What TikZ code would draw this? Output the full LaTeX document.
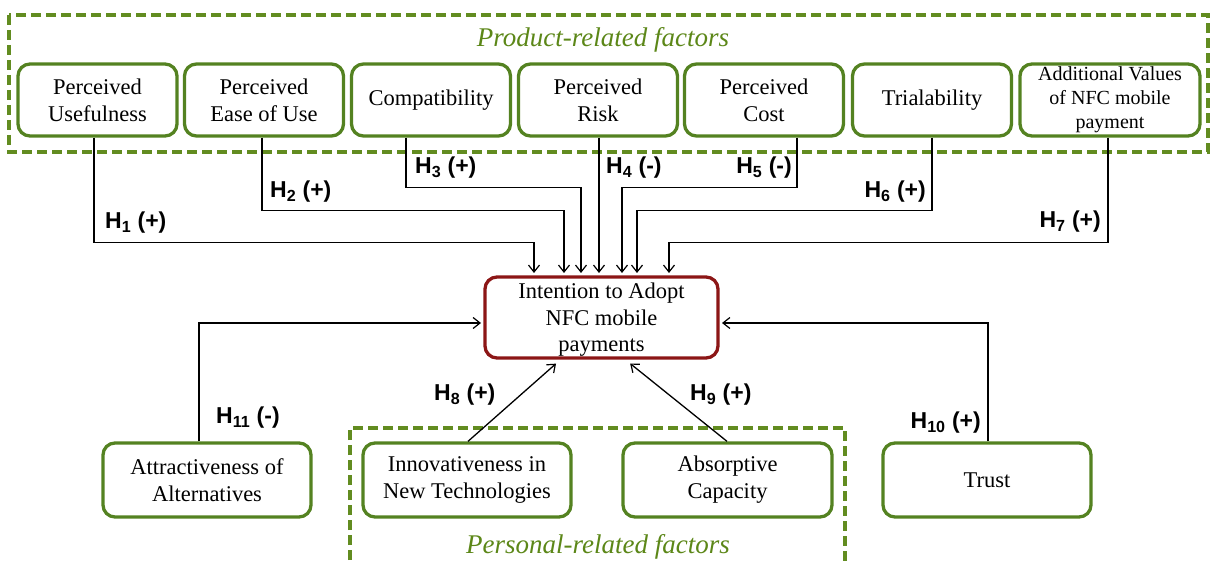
\documentclass[tikz,border=0pt]{standalone}
\usepackage{fontspec}
\setmainfont{Liberation Serif}
\newfontfamily\labfont{Liberation Sans}
\usetikzlibrary{arrows.meta}
\definecolor{boxgreen}{RGB}{84,130,33}
\definecolor{dashgreen}{RGB}{98,140,32}
\definecolor{titlegreen}{RGB}{92,135,24}
\definecolor{darkred}{RGB}{140,22,22}
\begin{document}
\begin{tikzpicture}[x=1pt,y=-1pt,
  factor/.style={draw=boxgreen, line width=3.3pt, rounded corners=12pt, align=center,
    font=\fontsize{22.5}{27}\selectfont, minimum width=159pt, minimum height=72pt, inner sep=0pt},
  lowfactor/.style={factor, minimum width=208pt, minimum height=74pt},
  target/.style={draw=darkred, line width=3.3pt, rounded corners=12pt,
    minimum width=233pt, minimum height=81pt, inner sep=0pt},
  targettext/.style={align=center, font=\fontsize{22.5}{26.5}\selectfont, inner sep=0pt},
  grouptitle/.style={text=titlegreen, font=\fontsize{27}{30}\selectfont\itshape},
  groupbox/.style={draw=dashgreen, line width=3.2pt, dash pattern=on 10pt off 5pt},
  conn/.style={draw=black, line width=1.3pt, -{Straight Barb[length=7pt,width=11pt,line width=1.2pt]}, shorten >=4pt},
  hyp/.style={font=\labfont\bfseries\fontsize{23}{26}\selectfont, inner sep=0pt}
]
\useasboundingbox (0,0) rectangle (1211,564);

% group boxes
\draw[groupbox] (9,15) rectangle (1208,152);
\draw[groupbox] (350,575) -- (350,428) -- (845,428) -- (845,575);
\node[grouptitle] (ptitle) at (603,40) {Product-related factors};
\node[grouptitle] (stitle) at (598,547) {Personal-related factors};

% product-related factors
\node[factor] (pu) at (97.5,100) {Perceived\\Usefulness};
\node[factor] (peou) at (264,100) {Perceived\\Ease of Use};
\node[factor] (comp) at (431,100) {Compatibility};
\node[factor] (pr) at (598,100) {Perceived\\Risk};
\node[factor] (pc) at (764,100) {Perceived\\Cost};
\node[factor] (tri) at (932,100) {Trialability};
\node[factor, minimum width=180pt, font=\fontsize{20}{24}\selectfont] (av) at (1110,100) {Additional Values\\of NFC mobile\\payment};

% central construct
\node[target] (ia) at (601.5,317.5) {};
\node[targettext] (iat) at (601.5,320) {Intention to Adopt\\NFC mobile\\payments};

% lower factors
\node[lowfactor] (alt) at (207,480) {Attractiveness of\\Alternatives};
\node[lowfactor] (inn) at (467,480) {Innovativeness in\\New Technologies};
\node[lowfactor, minimum width=209pt] (abs) at (727.5,480) {Absorptive\\Capacity};
\node[lowfactor] (tr) at (987,480) {Trust};

% arrow end points on the central box
\coordinate (t1) at (534,277);
\coordinate (t2) at (564,277);
\coordinate (t3) at (581,277);
\coordinate (t4) at (599,277);
\coordinate (t5) at (622,277);
\coordinate (t6) at (637,277);
\coordinate (t7) at (669,277);
\coordinate (t8) at (559,361);
\coordinate (t9) at (627,361);
\coordinate (t10) at (718,323);
\coordinate (t11) at (485,323);

% connectors
\draw[conn] ([xshift=-3.5pt]pu.south) -- ++(0,105) -| (t1);
\draw[conn] ([xshift=-2pt]peou.south) -- ++(0,73) -| (t2);
\draw[conn] ([xshift=-25pt]comp.south) -- ++(0,50) -| (t3);
\draw[conn] ([xshift=1pt]pr.south) -- (t4);
\draw[conn] ([xshift=33pt]pc.south) -- ++(0,50) -| (t5);
\draw[conn] (tri.south) -- ++(0,73) -| (t6);
\draw[conn] ([xshift=-2pt]av.south) -- ++(0,105) -| (t7);
\draw[conn] ([xshift=1pt]inn.north) -- (t8);
\draw[conn] ([xshift=-0.5pt]abs.north) -- (t9);
\draw[conn] ([xshift=1pt]tr.north) |- (t10);
\draw[conn] ([xshift=-8pt]alt.north) |- (t11);

% hypothesis labels
\node[hyp, anchor=west] (h1) at (105,223) {H\textsubscript{1} (+)};
\node[hyp, anchor=west] (h2) at (270,192) {H\textsubscript{2} (+)};
\node[hyp, anchor=west] (h3) at (415,168) {H\textsubscript{3} (+)};
\node[hyp, anchor=west] (h4) at (606,168) {H\textsubscript{4} (-)};
\node[hyp, anchor=east] (h5) at (792,168) {H\textsubscript{5} (-)};
\node[hyp, anchor=east] (h6) at (926,192) {H\textsubscript{6} (+)};
\node[hyp, anchor=east] (h7) at (1101,222) {H\textsubscript{7} (+)};
\node[hyp, anchor=west] (h8) at (434,395) {H\textsubscript{8} (+)};
\node[hyp, anchor=west] (h9) at (690,395) {H\textsubscript{9} (+)};
\node[hyp, anchor=east] (h10) at (981,423) {H\textsubscript{10} (+)};
\node[hyp, anchor=west] (h11) at (216,418) {H\textsubscript{11} (-)};
\end{tikzpicture}
\end{document}
